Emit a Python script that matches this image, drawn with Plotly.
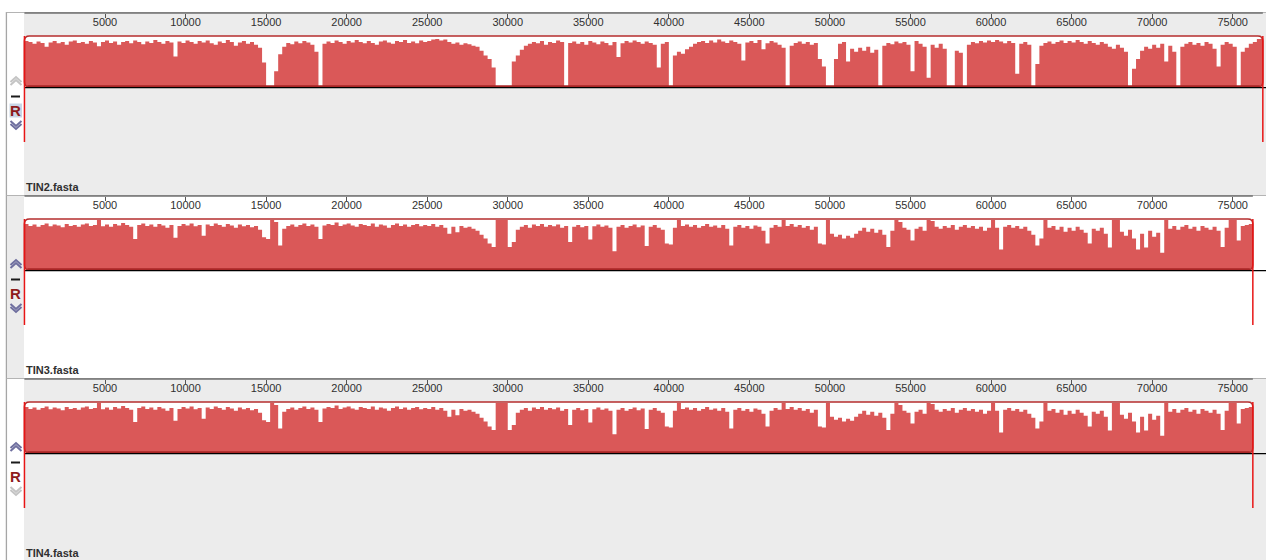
import plotly.graph_objects as go

# ------------------------------------------------------------------
# Alignment data: one LCB per genome, similarity profile in 250 bp bins
# (percent of block height, 0 = unaligned gap, 100 = full identity)
# ------------------------------------------------------------------
BIN_BP = 250
GENOMES = ["TIN2.fasta", "TIN3.fasta", "TIN4.fasta"]
GENOME_LEN = [76870, 76250, 76250]
RULER_TICKS = [5000, 10000, 15000, 20000, 25000, 30000, 35000, 40000,
               45000, 50000, 55000, 60000, 65000, 70000, 75000]

SIM_TIN2 = [
    92, 90, 86, 91, 88, 80, 89, 92, 87, 90, 84, 91, 93, 88, 90, 86, 92, 89, 81, 90,
    93, 88, 91, 84, 90, 92, 87, 93, 90, 85, 91, 88, 94, 90, 86, 92, 89, 60, 91, 88,
    93, 90, 86, 92, 89, 93, 87, 84, 91, 88, 94, 90, 82, 89, 92, 86, 90, 84, 78, 48,
    0, 0, 30, 65, 80, 88, 85, 91, 87, 92, 89, 84, 70, 0, 86, 91, 88, 93, 90, 86,
    92, 89, 94, 90, 87, 92, 88, 84, 91, 93, 89, 86, 92, 90, 94, 88, 91, 87, 93, 90,
    92, 95, 96, 93, 95, 90, 86, 89, 84, 87, 85, 82, 80, 72, 62, 55, 38, 0, 0, 0,
    0, 50, 62, 74, 82, 86, 90, 87, 92, 84, 90, 88, 93, 90, 0, 88, 91, 86, 90, 84,
    92, 89, 85, 91, 88, 83, 90, 59, 87, 92, 89, 93, 90, 86, 91, 88, 84, 38, 86, 90,
    0, 62, 70, 66, 75, 80, 86, 90, 92, 88, 93, 89, 95, 91, 88, 93, 90, 86, 52, 89,
    92, 88, 94, 75, 87, 92, 89, 84, 78, 0, 82, 88, 91, 86, 90, 84, 88, 55, 40, 0,
    0, 55, 86, 90, 50, 76, 70, 78, 72, 80, 68, 74, 0, 82, 88, 85, 91, 87, 90, 84,
    30, 92, 86, 80, 17, 84, 78, 86, 76, 0, 0, 72, 68, 0, 84, 90, 87, 92, 89, 93,
    90, 94, 91, 87, 92, 88, 25, 86, 90, 84, 0, 45, 82, 88, 91, 86, 90, 93, 88, 92,
    89, 94, 90, 86, 92, 88, 84, 90, 86, 80, 76, 84, 78, 70, 0, 35, 55, 72, 80, 76,
    84, 78, 86, 50, 82, 70, 0, 80, 86, 90, 84, 88, 82, 90, 86, 76, 40, 84, 90, 86,
    80, 0, 70, 78, 86, 90, 96, 97,
]

SIM_TIN3 = [
    92, 88, 91, 86, 90, 93, 87, 91, 89, 85, 92, 88, 90, 86, 91, 93, 88, 90, 100, 87,
    91, 86, 92, 89, 94, 90, 86, 61, 90, 93, 88, 91, 86, 92, 89, 84, 90, 64, 88, 92,
    89, 93, 87, 90, 68, 91, 88, 93, 90, 86, 92, 89, 84, 91, 87, 90, 85, 88, 80, 65,
    61, 100, 96, 48, 82, 88, 91, 86, 90, 93, 88, 91, 86, 61, 89, 92, 90, 95, 88, 91,
    93, 89, 86, 92, 90, 88, 93, 86, 91, 89, 84, 90, 93, 88, 91, 86, 90, 92, 87, 90,
    88, 92, 86, 90, 84, 72, 86, 75, 88, 84, 86, 82, 78, 70, 62, 52, 45, 100, 100, 100,
    45, 55, 80, 86, 90, 84, 91, 88, 92, 86, 90, 87, 91, 84, 88, 55, 86, 90, 85, 88,
    60, 87, 91, 86, 89, 84, 36, 86, 90, 84, 88, 91, 85, 89, 47, 86, 90, 84, 80, 52,
    50, 84, 100, 88, 91, 86, 90, 84, 88, 92, 86, 89, 84, 90, 82, 48, 86, 90, 84, 88,
    82, 89, 86, 78, 52, 84, 90, 86, 100, 88, 92, 86, 90, 84, 88, 80, 86, 52, 50, 100,
    72, 66, 70, 62, 68, 64, 72, 78, 84, 76, 82, 74, 80, 70, 45, 78, 100, 96, 84, 80,
    58, 82, 86, 78, 100, 98, 86, 82, 88, 84, 90, 80, 86, 90, 84, 88, 82, 86, 78, 84,
    100, 84, 40, 86, 90, 84, 88, 82, 86, 78, 70, 48, 62, 100, 84, 88, 80, 86, 76, 84,
    78, 86, 80, 74, 52, 82, 78, 84, 72, 44, 100, 100, 76, 68, 80, 62, 40, 72, 44, 78,
    66, 74, 33, 100, 82, 88, 80, 86, 90, 82, 86, 78, 88, 84, 80, 86, 78, 45, 84, 100,
    100, 58, 88, 90, 92,
]

# TIN4 carries the same profile as TIN3
SIM_TIN4 = list(SIM_TIN3)

PROFILES = [SIM_TIN2, SIM_TIN3, SIM_TIN4]

# ------------------------------------------------------------------
# Page geometry (pixels) and styling
# ------------------------------------------------------------------
W, H = 1266, 560
X0_PX = 24.45          # pixel column of sequence position 0
PX_PER_BP = 0.01611    # horizontal zoom
RULER_Y = [13, 196, 379]
PANEL_BG = ["#ECECEC", "#FFFFFF", "#ECECEC"]
SIDE_BG = ["#FFFFFF", "#ECECEC", "#FFFFFF"]
UP_ON = [False, True, True]
DOWN_ON = [True, True, False]
R_SELECTED = [True, False, False]

LCB_RED = "#DA5858"
LCB_EDGE = "#B52E2E"
MARK_RED = "#E81515"
CHEV_ON = "#6F6F9F"
CHEV_OFF = "#C4C4C4"
TEXT = "#303030"
FONT = "Liberation Sans, Arial, sans-serif"


def fx(px):
    return px / W


def fy(py):
    return 1 - py / H


X_RANGE = [-X0_PX / PX_PER_BP, (W - X0_PX) / PX_PER_BP]

fig = go.Figure()
shapes = []
annotations = []
layout_axes = {}

# window frame
shapes.append(dict(type="line", xref="paper", yref="paper", x0=fx(6.5), x1=fx(6.5),
                   y0=fy(12), y1=0, line=dict(color="#A6A6A6", width=1.5), layer="below"))


def chevron(cy, up, color):
    """Double chevron button glyph centred on pixel row cy."""
    for off in (-1.5, 1.5):
        if up:
            pts = [(10.5, cy + 2.5 + off), (16, cy - 2.5 + off), (21.5, cy + 2.5 + off)]
        else:
            pts = [(10.5, cy - 2.5 + off), (16, cy + 2.5 + off), (21.5, cy - 2.5 + off)]
        p = "M " + " L ".join(f"{fx(a)},{fy(b)}" for a, b in pts)
        shapes.append(dict(type="path", xref="paper", yref="paper", path=p,
                           line=dict(color=color, width=2), layer="above"))


for k, (name, L, sim) in enumerate(zip(GENOMES, GENOME_LEN, PROFILES)):
    suffix = "" if k == 0 else str(k + 1)
    xr, yr = "x" + suffix, "y" + suffix
    ry = RULER_Y[k]
    p_bottom = RULER_Y[k + 1] - 1 if k + 1 < len(RULER_Y) else H
    top, bottom = ry + 23, ry + 74

    # panel backgrounds
    shapes.append(dict(type="rect", xref="paper", yref="paper", x0=fx(24), x1=1,
                       y0=fy(p_bottom), y1=fy(ry), fillcolor=PANEL_BG[k],
                       line=dict(width=0), layer="below"))
    shapes.append(dict(type="rect", xref="paper", yref="paper", x0=fx(7.3), x1=fx(24),
                       y0=fy(p_bottom), y1=fy(ry), fillcolor=SIDE_BG[k],
                       line=dict(width=0), layer="below"))
    # panel separator / frame line
    shapes.append(dict(type="line", xref="paper", yref="paper", x0=fx(6.5), x1=1,
                       y0=fy(ry - 0.5), y1=fy(ry - 0.5),
                       line=dict(color="#B4B4B4", width=1), layer="below"))
    # ruler baseline
    shapes.append(dict(type="line", xref=xr, yref="paper", x0=0, x1=L,
                       y0=fy(ry), y1=fy(ry), line=dict(color="#707070", width=1.5),
                       layer="below"))

    # LCB block background
    shapes.append(dict(type="rect", xref=xr, yref="paper", x0=0, x1=L,
                       y0=fy(bottom), y1=fy(top), fillcolor="#FFFFFF",
                       line=dict(width=0), layer="below"))

    # similarity profile
    x_edges = [i * BIN_BP for i in range(len(sim))] + [L]
    y_vals = list(sim) + [sim[-1]]
    fig.add_trace(go.Scatter(
        x=x_edges, y=y_vals, mode="lines",
        line=dict(shape="hv", width=0, color=LCB_RED),
        fill="tozeroy", fillcolor=LCB_RED,
        xaxis=xr, yaxis=yr, hoverinfo="skip", showlegend=False,
    ))

    # rounded LCB outline
    rx = 5 / PX_PER_BP
    rp = 5 / H
    y0p, y1p = fy(bottom), fy(top)
    path = (f"M {rx},{y1p} L {L - rx},{y1p} Q {L},{y1p} {L},{y1p - rp} "
            f"L {L},{y0p + rp} Q {L},{y0p} {L - rx},{y0p} L {rx},{y0p} "
            f"Q 0,{y0p} 0,{y0p + rp} L 0,{y1p - rp} Q 0,{y1p} {rx},{y1p} Z")
    shapes.append(dict(type="path", xref=xr, yref="paper", path=path,
                       line=dict(color=LCB_EDGE, width=1.6), layer="above"))
    shapes.append(dict(type="line", xref=xr, yref="paper", x0=rx * 0.6, x1=L - rx * 0.6,
                       y0=fy(bottom - 0.8), y1=fy(bottom - 0.8),
                       line=dict(color="#A82626", width=2), layer="above"))

    # genome centre line
    shapes.append(dict(type="line", xref="paper", yref="paper", x0=fx(24), x1=1,
                       y0=fy(bottom + 0.6), y1=fy(bottom + 0.6),
                       line=dict(color="#000000", width=1.2), layer="above"))

    # genome start / end markers
    for xpos in (0, L):
        shapes.append(dict(type="line", xref=xr, yref="paper", x0=xpos, x1=xpos,
                           y0=fy(top), y1=fy(ry + 129),
                           line=dict(color=MARK_RED, width=1.5), layer="above"))

    # axes
    layout_axes["xaxis" + suffix] = dict(
        domain=[0, 1], range=X_RANGE, anchor="free", position=fy(ry), side="top",
        ticks="inside", ticklen=4, tickwidth=1, tickcolor="#555555",
        tickvals=RULER_TICKS, ticktext=[str(t) for t in RULER_TICKS],
        ticklabelposition="inside", color=TEXT,
        tickfont=dict(family=FONT, size=11, color=TEXT),
        showgrid=False, zeroline=False, showline=False, fixedrange=True,
    )
    layout_axes["yaxis" + suffix] = dict(
        domain=[fy(bottom - 1), fy(top + 1)], range=[0, 100], visible=False,
        fixedrange=True, anchor=xr,
    )

    # side controls: move up, hide, reverse, move down
    chevron(ry + 68, True, CHEV_ON if UP_ON[k] else CHEV_OFF)
    chevron(ry + 112, False, CHEV_ON if DOWN_ON[k] else CHEV_OFF)
    shapes.append(dict(type="line", xref="paper", yref="paper", x0=fx(11), x1=fx(20),
                       y0=fy(ry + 83.5), y1=fy(ry + 83.5),
                       line=dict(color="#1A1A1A", width=2), layer="above"))
    if R_SELECTED[k]:
        shapes.append(dict(type="rect", xref="paper", yref="paper", x0=fx(9.5), x1=fx(22),
                           y0=fy(ry + 104.5), y1=fy(ry + 90.5), fillcolor="#C9D6E6",
                           line=dict(width=0), layer="above"))
    annotations.append(dict(x=fx(15.8), y=fy(ry + 97.5), xref="paper", yref="paper",
                            text="<b>R</b>", showarrow=False, xanchor="center",
                            yanchor="middle",
                            font=dict(family=FONT, size=15, color="#8E1C1C")))

    # genome name
    annotations.append(dict(x=fx(24), y=fy(ry + 174), xref="paper", yref="paper",
                            text=f"<b>{name}</b>", showarrow=False, xanchor="left",
                            yanchor="middle",
                            font=dict(family=FONT, size=11, color=TEXT)))

fig.update_layout(
    template="none",
    width=W, height=H, margin=dict(l=0, r=0, t=0, b=0),
    paper_bgcolor="#FFFFFF", plot_bgcolor="rgba(0,0,0,0)",
    font=dict(family=FONT, color=TEXT),
    shapes=shapes, annotations=annotations, showlegend=False,
    **layout_axes,
)

fig.write_html("out.html", include_plotlyjs=True, config={"displayModeBar": False})
